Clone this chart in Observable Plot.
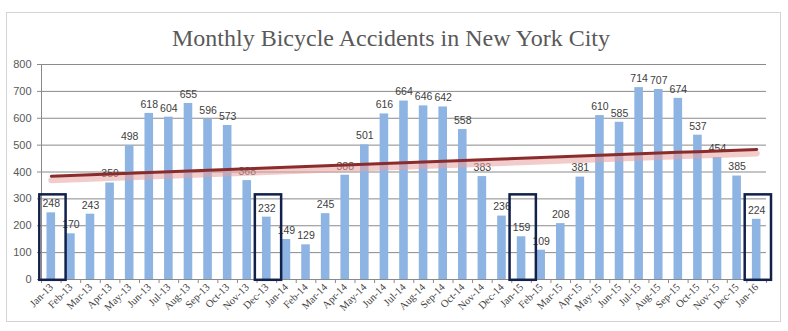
<!DOCTYPE html>
<html>
<head>
<meta charset="utf-8">
<script src="https://cdn.jsdelivr.net/npm/d3@7"></script>
<script src="https://cdn.jsdelivr.net/npm/@observablehq/plot@0.6"></script>
<style>
  html, body { margin: 0; padding: 0; background: #fff; }
  #wrap { position: relative; width: 788px; height: 331px; overflow: hidden; }
  #border { position: absolute; left: 6px; top: 12px; width: 773px; height: 308px; border: 1px solid #d4d4d4; }
  #title { position: absolute; left: 0; top: 26px; width: 782px; text-align: center;
           font-family: "Liberation Serif", serif; font-size: 24px; line-height: 24px; color: #595959; }
  #chart { position: absolute; left: 0; top: 0; }
</style>
</head>
<body>
<div id="wrap">
  <div id="border"></div>
  <div id="title">Monthly Bicycle Accidents in New York City</div>
  <div id="chart"></div>
</div>
<script>
const months = ["Jan-13","Feb-13","Mar-13","Apr-13","May-13","Jun-13","Jul-13","Aug-13","Sep-13","Oct-13","Nov-13","Dec-13",
                "Jan-14","Feb-14","Mar-14","Apr-14","May-14","Jun-14","Jul-14","Aug-14","Sep-14","Oct-14","Nov-14","Dec-14",
                "Jan-15","Feb-15","Mar-15","Apr-15","May-15","Jun-15","Jul-15","Aug-15","Sep-15","Oct-15","Nov-15","Dec-15",
                "Jan-16"];
const accidents = [248,170,243,359,498,618,604,655,596,573,368,232,
                   149,129,245,388,501,616,664,646,642,558,383,236,
                   159,109,208,381,610,585,714,707,674,537,454,385,
                   224];
const highlighted = ["Jan-13","Dec-13","Jan-15","Jan-16"];
const yTicks = [0,100,200,300,400,500,600,700,800];

const data = months.map((m, i) => ({month: m, value: accidents[i], i}));

// linear least-squares trendline (as Excel's linear trendline)
const mx = d3.mean(data, d => d.i), my = d3.mean(data, d => d.value);
const slope = d3.sum(data, d => (d.i - mx) * (d.value - my)) / d3.sum(data, d => (d.i - mx) ** 2);
const icpt = my - slope * mx;
const trend = data.map(d => ({month: d.month, fit: icpt + slope * d.i}));

const half = (788 - 41 - 22) / months.length / 2;

const chart = Plot.plot({
  width: 788,
  height: 331,
  marginLeft: 41,
  marginRight: 22,
  marginTop: 64,
  marginBottom: 52,
  style: {background: "transparent", fontFamily: "Liberation Sans, sans-serif"},
  x: {domain: months, padding: 0, round: false, label: null},
  y: {domain: [0, 800], label: null},
  marks: [
    Plot.gridY(yTicks, {stroke: "#8a8a8a", strokeOpacity: 1, strokeWidth: 1}),
    Plot.ruleX([months[0]], {dx: -half, stroke: "#8a8a8a"}),
    Plot.ruleX(months, {y1: 0, y2: -15, dx: -half, stroke: "#8a8a8a"}),
    Plot.ruleX([months[months.length - 1]], {y1: 0, y2: -15, dx: half, stroke: "#8a8a8a"}),
    Plot.axisY({ticks: yTicks, tickSize: 4, tickPadding: 6, fontSize: 11, fill: "#595959", stroke: "#8a8a8a", label: null}),
    Plot.axisX({tickSize: 0, tickRotate: -45, tickPadding: 6, fontSize: 10.5, fontFamily: "Liberation Serif, serif", fill: "#404040", label: null}),
    Plot.barY(data, {x: "month", y: "value", fill: "#8EB4E3", insetLeft: 5.5, insetRight: 5.5}),
    Plot.text(data, {x: "month", y: "value", text: d => String(d.value), dy: -9, fontSize: 10.5, fill: "#404040"}),
    Plot.line(trend, {x: "month", y: "fit", stroke: "#e8a0a0", strokeWidth: 6, strokeOpacity: 0.55, dy: 4}),
    Plot.line(trend, {x: "month", y: "fit", stroke: "#8B2C2C", strokeWidth: 3}),
    Plot.barY(highlighted, {x: d => d, y1: -3, y2: 315, fill: "none", stroke: "#12214A", strokeWidth: 2.5, insetLeft: -1.7, insetRight: -5})
  ]
});
document.getElementById("chart").append(chart);
</script>
</body>
</html>
